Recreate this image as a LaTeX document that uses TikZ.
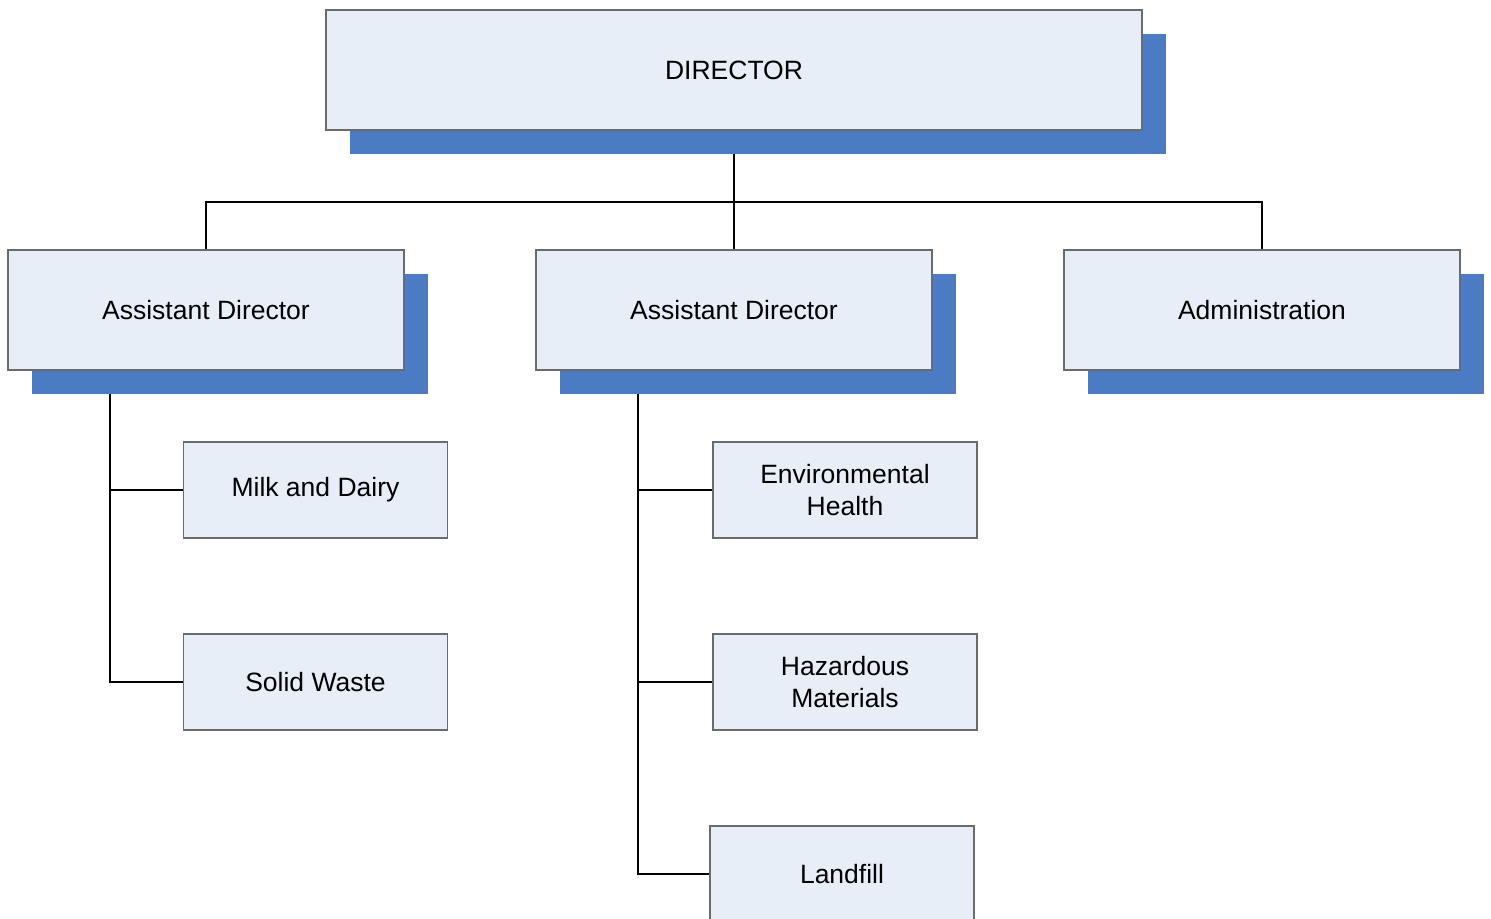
\documentclass[tikz,border=0pt]{standalone}
\usepackage{fontspec}
\setmainfont{Liberation Sans}
\usetikzlibrary{shadows,backgrounds}
\definecolor{boxfill}{HTML}{E8EEF8}
\definecolor{boxline}{HTML}{6B6B6B}
\definecolor{shadowblue}{HTML}{4A7BC3}

\begin{document}
\begin{tikzpicture}[x=0.5pt,y=-0.5pt,
  unit/.style={draw=boxline,fill=boxfill,line width=0.6pt,align=center,
    font=\fontsize{13.25}{16}\selectfont,inner sep=0pt},
  headbox/.style={unit,minimum width=198pt,minimum height=60pt,
    drop shadow={shadow xshift=12pt,shadow yshift=-12pt,fill=shadowblue,opacity=1,draw=none}},
  subbox/.style={unit,minimum width=132pt,minimum height=48pt},
  link/.style={line width=1pt}]
\useasboundingbox (0,0) rectangle (1491,919);
% top level
\node[headbox,minimum width=408pt] (director) at (734,70) {DIRECTOR};
% second level
\node[headbox] (asstleft) at (206,310) {Assistant Director};
\node[headbox] (asstmid) at (734,310) {Assistant Director};
\node[headbox] (admin) at (1262,310) {Administration};
% sections
\node[subbox] (milk) at (315.5,490) {Milk and Dairy};
\node[subbox] (waste) at (315.5,682) {Solid Waste};
\node[subbox] (envhealth) at (845,490) {Environmental\\Health};
\node[subbox] (hazmat) at (845,682) {Hazardous\\Materials};
\node[subbox] (landfill) at (842,874) {Landfill};
\coordinate (bus) at (734,202);
\begin{pgfonlayer}{background}
\draw[link] (director.south) -- (bus);
\draw[link] (asstleft.north) |- (bus) -| (admin.north);
\draw[link] (bus) -- (asstmid.north);
\draw[link] ([xshift=-48pt]asstleft.south) |- (milk.west);
\draw[link] ([xshift=-48pt]asstleft.south) |- (waste.west);
\draw[link] ([xshift=-48pt]asstmid.south) |- (envhealth.west);
\draw[link] ([xshift=-48pt]asstmid.south) |- (hazmat.west);
\draw[link] ([xshift=-48pt]asstmid.south) |- (landfill.west);
\end{pgfonlayer}
\end{tikzpicture}
\end{document}
